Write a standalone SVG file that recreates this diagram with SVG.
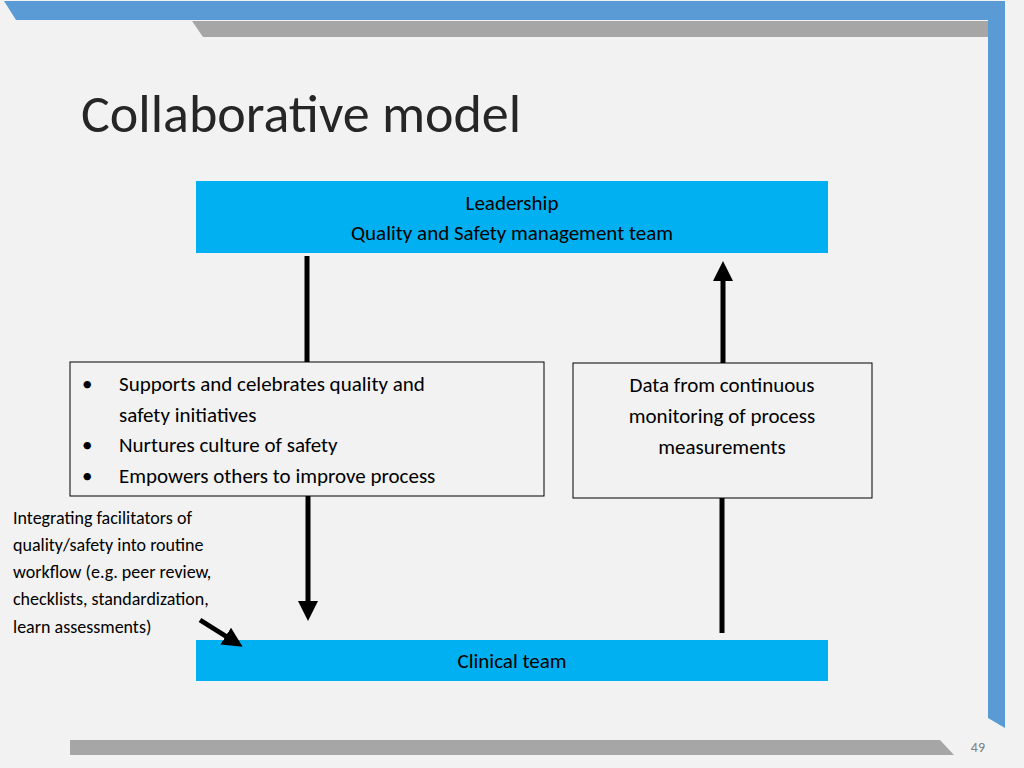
<svg xmlns="http://www.w3.org/2000/svg" width="1024" height="768" viewBox="0 0 1024 768">
<defs>
<style>
text{font-family:Calibri,"Liberation Sans","DejaVu Sans",sans-serif;fill:#000}
.t{font-size:21px}
.bar{fill:#00b0f0}
.box{fill:#f2f2f2;stroke:#000;stroke-width:1}
.ln{stroke:#000;stroke-width:5;fill:none}
</style>
<marker id="ah" markerWidth="4" markerHeight="4" refX="2.2" refY="2" orient="auto" markerUnits="strokeWidth"><path d="M0,0 L4,2 L0,4 Z" fill="#000"/></marker>
</defs>
<rect width="1024" height="768" fill="#f2f2f2"/>
<polygon points="4,1 1005,1 1005,728 988,718 988,20 16,20" fill="#5b9bd5"/>
<polygon points="192,21 988,21 988,37 1024,37 1024,21 1024,37 203,37" fill="#a6a6a6"/>
<polygon points="70,740 940,740 954,755 70,755" fill="#a6a6a6"/>
<text x="81" y="132" style="font-size:54px;fill:#262626">Collaborative model</text>
<text x="985" y="752" text-anchor="end" style="font-size:14px;fill:#808080">49</text>
<g id="leadership"><rect class="bar" x="196" y="181" width="632" height="72"/>
<text class="t" x="512" y="210" text-anchor="middle">Leadership</text>
<text class="t" x="512" y="240" text-anchor="middle">Quality and Safety management team</text></g>
<g id="clinical"><rect class="bar" x="196" y="640" width="632" height="41"/>
<text class="t" x="512" y="668" text-anchor="middle">Clinical team</text></g>
<g id="supports"><rect class="box" x="70" y="362" width="474" height="134"/>
<text class="t" x="82" y="391">•</text><text class="t" x="119" y="391">Supports and celebrates quality and</text>
<text class="t" x="119" y="422">safety initiatives</text>
<text class="t" x="82" y="452">•</text><text class="t" x="119" y="452">Nurtures culture of safety</text>
<text class="t" x="82" y="483">•</text><text class="t" x="119" y="483">Empowers others to improve process</text></g>
<g id="data"><rect class="box" x="573" y="363" width="299" height="135"/>
<text class="t" x="722" y="392" text-anchor="middle">Data from continuous</text>
<text class="t" x="722" y="423" text-anchor="middle">monitoring of process</text>
<text class="t" x="722" y="454" text-anchor="middle">measurements</text></g>
<g id="integrating" style="font-size:18px">
<text x="13" y="524" style="font-size:18px">Integrating facilitators of</text>
<text x="13" y="551" style="font-size:18px">quality/safety into routine</text>
<text x="13" y="578" style="font-size:18px">workflow (e.g. peer review,</text>
<text x="13" y="605" style="font-size:18px">checklists, standardization,</text>
<text x="13" y="633" style="font-size:18px">learn assessments)</text></g>
<g id="connectors">
<line class="ln" x1="307" y1="256" x2="307" y2="362"/>
<line class="ln" x1="308" y1="496" x2="308" y2="612" marker-end="url(#ah)"/>
<line class="ln" x1="723" y1="363" x2="723" y2="270" marker-end="url(#ah)"/>
<line class="ln" x1="722" y1="498" x2="722" y2="633"/>
<line class="ln" x1="200" y1="620" x2="235" y2="642" marker-end="url(#ah)"/>
</g>
</svg>
